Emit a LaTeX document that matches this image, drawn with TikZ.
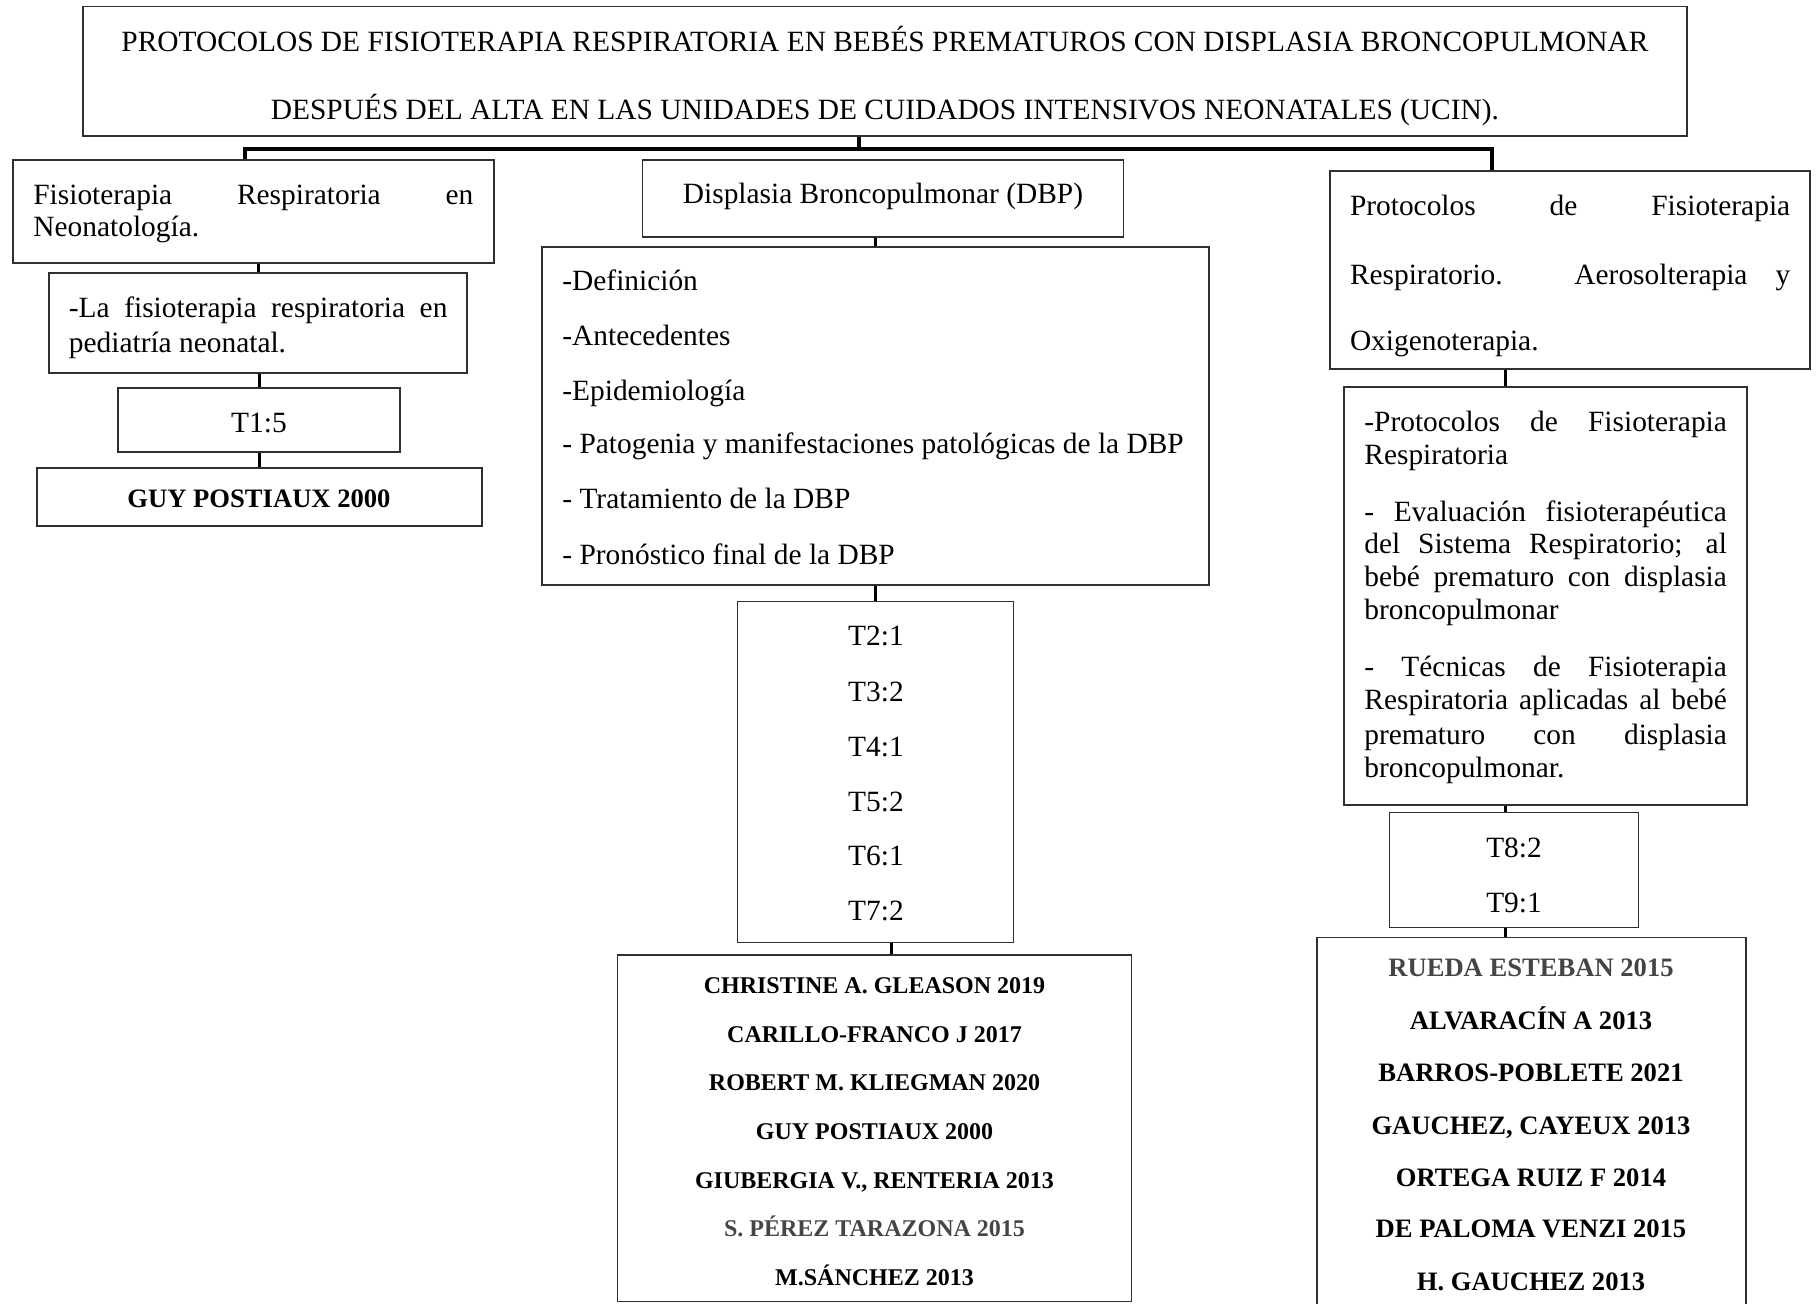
\documentclass[tikz,border=0pt]{standalone}
\usepackage{fontspec}
\setmainfont{Liberation Serif}
\usetikzlibrary{fit}
\newlength\pxu \setlength\pxu{0.5pt}
\newcommand\jline[2]{\makebox[#1\pxu][s]{#2}}
\definecolor{boxc}{HTML}{303030}
\definecolor{refgrey}{HTML}{454545}
\tikzset{
  bx/.style={draw=boxc, line width=0.75pt, inner sep=0pt},
  conn/.style={draw=black, line width=1.5pt},
  trunk/.style={draw=black, line width=1.8pt, line join=miter},
  txt/.style={inner sep=0pt, text height=0.662em, text depth=0pt, yshift=-1.5pt, font=\fontsize{14.7}{17}\selectfont},
  refm/.style={inner sep=0pt, text height=0.662em, text depth=0pt, yshift=-0.6pt, font=\fontsize{12}{14}\selectfont\bfseries},
  refr/.style={inner sep=0pt, text height=0.662em, text depth=0pt, yshift=-0.6pt, font=\fontsize{13.3}{15}\selectfont\bfseries},
}
\begin{document}
\begin{tikzpicture}[x=0.5pt,y=-0.5pt]
\useasboundingbox (0,0) rectangle (1819,1303);
% ---------- boxes ----------
\node[bx, fit={(83,6.5) (1687,136)}] (T) {};
\node[bx, fit={(13,160) (494,263)}] (L1) {};
\node[bx, fit={(49,273) (467,373)}] (L2) {};
\node[bx, fit={(118,388) (400,452)}] (L3) {};
\node[bx, fit={(37,468) (482,526)}] (L4) {};
\node[bx, fit={(642.5,160) (1123.5,237)}] (M1) {};
\node[bx, fit={(542,247) (1209,585)}] (M2) {};
\node[bx, fit={(737.7,601.5) (1013.7,942.5)}] (M3) {};
\node[bx, fit={(617.5,955) (1131.5,1301.5)}] (M4) {};
\node[bx, fit={(1330,171) (1810,369)}] (R1) {};
\node[bx, fit={(1344,387) (1747,805)}] (R2) {};
\node[bx, fit={(1389.5,812.5) (1638.5,927.5)}] (R3) {};
\node[bx, fit={(1317,937.5) (1746,1312)}] (R4) {};
% ---------- connectors ----------
\coordinate (tj) at (859,149);
\coordinate (tjl) at (245,149);
\coordinate (tjr) at (1492,149);
\draw[trunk] (T.south -| tj) -- (tj);
\draw[trunk] (tjl |- L1.north) -- (tjl) -- (tjr) -- (tjr |- R1.north);
\draw[conn] (L2.north) -- (L2.north |- L1.south);
\draw[conn] (L3.north) -- (L3.north |- L2.south);
\draw[conn] (L4.north) -- (L4.north |- L3.south);
\draw[conn] (M2.north) -- (M2.north |- M1.south);
\draw[conn] (M3.north) -- (M3.north |- M2.south);
\coordinate (mx) at (891,0);
\draw[conn] (M3.south -| mx) -- (M4.north -| mx);
\coordinate (rx) at (1505,0);
\draw[conn] (R1.south -| rx) -- (R2.north -| rx);
\draw[conn] (R2.south -| rx) -- (R3.north -| rx);
\draw[conn] (R3.south -| rx) -- (R4.north -| rx);
% ---------- title ----------
\node[txt] (t1) at (885,42) {PROTOCOLOS DE FISIOTERAPIA RESPIRATORIA EN BEBÉS PREMATUROS CON DISPLASIA BRONCOPULMONAR};
\node[txt] (t2) at (885,110) {DESPUÉS DEL ALTA EN LAS UNIDADES DE CUIDADOS INTENSIVOS NEONATALES (UCIN).};
% ---------- left column ----------
\node[txt, anchor=west] (l1a) at (33,194.6) {\jline{440}{Fisioterapia Respiratoria en}};
\node[txt, anchor=west] (l1b) at (33,227) {Neonatología.};
\node[txt, anchor=west] (l2a) at (68.5,307.5) {\jline{378.5}{-La fisioterapia respiratoria en}};
\node[txt, anchor=west] (l2b) at (68.5,342.6) {pediatría neonatal.};
\node[txt] (l3a) at (259,423) {T1:5};
\node[refr] (l4a) at (259,500) {GUY POSTIAUX 2000};
% ---------- middle column ----------
\node[txt] (m1a) at (883,194) {Displasia Broncopulmonar (DBP)};
\node[txt, anchor=west] (m2a) at (562,280.6) {-Definición};
\node[txt, anchor=west] (m2b) at (562,335.7) {-Antecedentes};
\node[txt, anchor=west] (m2c) at (562,390.8) {-Epidemiología};
\node[txt, anchor=west] (m2d) at (562,444) {- Patogenia y manifestaciones patológicas de la DBP};
\node[txt, anchor=west] (m2e) at (562,499.3) {- Tratamiento de la DBP};
\node[txt, anchor=west] (m2f) at (562,555) {- Pronóstico final de la DBP};
\node[txt] (m3a) at (876,636) {T2:1};
\node[txt] (m3b) at (876,691.5) {T3:2};
\node[txt] (m3c) at (876,746.5) {T4:1};
\node[txt] (m3d) at (876,801.5) {T5:2};
\node[txt] (m3e) at (876,856) {T6:1};
\node[txt] (m3f) at (876,911) {T7:2};
\node[refm] (m4a) at (874.5,986) {CHRISTINE A. GLEASON 2019};
\node[refm] (m4b) at (874.5,1034.5) {CARILLO-FRANCO J 2017};
\node[refm] (m4c) at (874.5,1083) {ROBERT M. KLIEGMAN 2020};
\node[refm] (m4d) at (874.5,1131.5) {GUY POSTIAUX 2000};
\node[refm] (m4e) at (874.5,1180.5) {GIUBERGIA V., RENTERIA 2013};
\node[refm, text=refgrey] (m4f) at (874.5,1229) {S. PÉREZ TARAZONA 2015};
\node[refm] (m4g) at (874.5,1278) {M.SÁNCHEZ 2013};
% ---------- right column ----------
\node[txt, anchor=west] (r1a) at (1349.6,205.6) {\jline{440.2}{Protocolos de Fisioterapia}};
\node[txt, anchor=west] (r1b) at (1349.6,274.5) {\jline{440.2}{Respiratorio. Aerosolterapia y}};
\node[txt, anchor=west] (r1c) at (1349.6,341) {Oxigenoterapia.};
\node[txt, anchor=west] (r2a) at (1364,421.8) {\jline{362.5}{-Protocolos de Fisioterapia}};
\node[txt, anchor=west] (r2b) at (1364,454.5) {Respiratoria};
\node[txt, anchor=west] (r2c) at (1364,511.4) {\jline{362.5}{- Evaluación fisioterapéutica}};
\node[txt, anchor=west] (r2d) at (1364,543.5) {\jline{362.5}{del Sistema Respiratorio; al}};
\node[txt, anchor=west] (r2e) at (1364,577) {\jline{362.5}{bebé prematuro con displasia}};
\node[txt, anchor=west] (r2f) at (1364,610) {broncopulmonar};
\node[txt, anchor=west] (r2g) at (1364,666.5) {\jline{362.5}{- Técnicas de Fisioterapia}};
\node[txt, anchor=west] (r2h) at (1364,700) {\jline{362.5}{Respiratoria aplicadas al bebé}};
\node[txt, anchor=west] (r2i) at (1364,734.5) {\jline{362.5}{prematuro con displasia}};
\node[txt, anchor=west] (r2j) at (1364,767.5) {broncopulmonar.};
\node[txt] (r3a) at (1514,847.5) {T8:2};
\node[txt] (r3b) at (1514,902.5) {T9:1};
\node[refr, text=refgrey] (r4a) at (1531,969) {RUEDA ESTEBAN 2015};
\node[refr] (r4b) at (1531,1022) {ALVARACÍN A 2013};
\node[refr] (r4c) at (1531,1074) {BARROS-POBLETE 2021};
\node[refr] (r4d) at (1531,1126.5) {GAUCHEZ, CAYEUX 2013};
\node[refr] (r4e) at (1531,1178.5) {ORTEGA RUIZ F 2014};
\node[refr] (r4f) at (1531,1230) {DE PALOMA VENZI 2015};
\node[refr] (r4g) at (1531,1282.5) {H. GAUCHEZ 2013};
\end{tikzpicture}
\end{document}
